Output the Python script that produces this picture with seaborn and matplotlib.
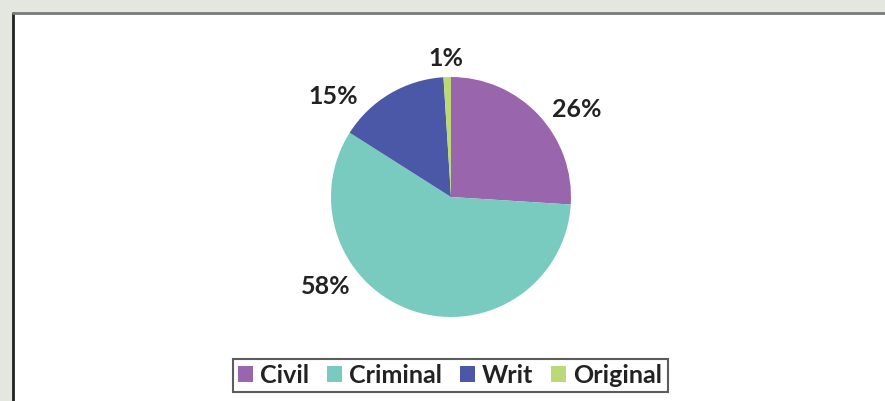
import matplotlib
matplotlib.use("Agg")
import matplotlib.pyplot as plt
import seaborn as sns
from matplotlib.patches import Rectangle

categories = ["Civil", "Criminal", "Writ", "Original"]
shares = [26, 58, 15, 1]
pct_labels = ["26%", "58%", "15%", "1%"]
colors = ["#9966ad", "#79cbbf", "#4b58a8", "#bcd977"]

sns.set_theme(style="white")
plt.rcParams["font.family"] = ["Lato", "DejaVu Sans"]

fig = plt.figure(figsize=(8.85, 4.02), dpi=100)
fig.patch.set_facecolor("#e3e7e0")

# white panel with frame
panel = Rectangle((13 / 885, -0.1), 1.2, 1 - 14 / 402 + 0.1, transform=fig.transFigure,
                  facecolor="white", edgecolor="none", zorder=-5)
fig.patches.append(panel)
fig.add_artist(plt.Line2D([13 / 885, 13 / 885], [0, 1 - 14 / 402], transform=fig.transFigure,
                          color="#222222", lw=2, zorder=-4))
fig.add_artist(plt.Line2D([13 / 885, 1], [1 - 14 / 402, 1 - 14 / 402], transform=fig.transFigure,
                          color="#7a7a7a", lw=2, zorder=-4))

ax = fig.add_axes([283 / 885, 36 / 402, 336 / 885, 336 / 402])
ax.set_zorder(2)
ax.set_facecolor("none")
palette = sns.color_palette(colors)
wedges, texts = ax.pie(shares, colors=palette, startangle=90, counterclock=False,
                       radius=1.0, wedgeprops=dict(linewidth=0))
ax.set_xlim(-1.4, 1.4)
ax.set_ylim(-1.4, 1.4)
ax.set_aspect("equal")
ax.axis("off")

# label placement (best-fit style)
label_pos = [(1.05, 0.74), (-1.04, -0.74), (-0.98, 0.85), (-0.04, 1.16)]
for lab, (x, y) in zip(pct_labels, label_pos):
    ax.text(x, y, lab, ha="center", va="center", fontsize=18, fontweight="bold", color="#222222")

handles = [Rectangle((0, 0), 1, 1, facecolor=c, edgecolor="none") for c in colors]
leg = fig.legend(handles, categories, loc="center", bbox_to_anchor=(450 / 885, 1 - 376 / 402),
                 ncol=4, frameon=True, fancybox=False, handlelength=0.6, handleheight=0.6,
                 handletextpad=0.3, columnspacing=0.7, borderpad=0.2, borderaxespad=0,
                 prop=dict(size=18, weight="bold"))
leg.set_zorder(3)
leg.get_frame().set_edgecolor("#333333")
leg.get_frame().set_linewidth(1.5)
for t in leg.get_texts():
    t.set_color("#222222")

fig.savefig("out.png", dpi=100, facecolor=fig.get_facecolor())
